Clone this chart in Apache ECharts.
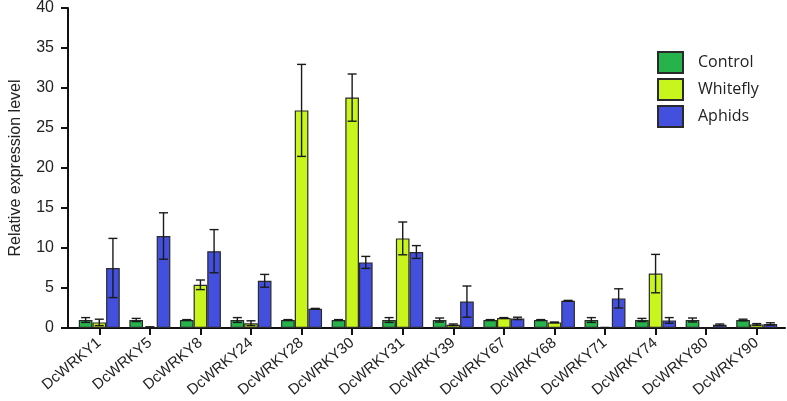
<!DOCTYPE html>
<html><head><meta charset="utf-8">
<script src="https://cdn.jsdelivr.net/npm/echarts@6/dist/echarts.min.js"></script>
<style>html,body{margin:0;padding:0;background:#fff}#c{width:787px;height:401px}</style>
</head><body><div id="c"></div>
<script>
const categories = ['DcWRKY1','DcWRKY5','DcWRKY8','DcWRKY24','DcWRKY28','DcWRKY30','DcWRKY31','DcWRKY39','DcWRKY67','DcWRKY68','DcWRKY71','DcWRKY74','DcWRKY80','DcWRKY90'];
const seriesNames = ['Control','Whitefly','Aphids'];
const controlVals = [1.0, 1.0, 1.0, 1.0, 1.0, 1.0, 1.0, 1.0, 1.0, 1.0, 1.0, 1.0, 1.0, 1.0];
const controlErr  = [0.3, 0.2, 0.05, 0.3, 0.05, 0.05, 0.3, 0.25, 0.05, 0.05, 0.3, 0.2, 0.25, 0.1];
const whiteflyVals = [0.7, 0.1, 5.4, 0.6, 27.2, 28.8, 11.2, 0.4, 1.25, 0.7, 0.05, 6.8, 0.02, 0.45];
const whiteflyErr  = [0.4, 0.05, 0.6, 0.3, 5.75, 2.95, 2.05, 0.1, 0.05, 0.05, 0.02, 2.4, 0.01, 0.1];
const aphidsVals = [7.5, 11.5, 9.6, 5.9, 2.4, 8.2, 9.5, 3.3, 1.2, 3.4, 3.7, 0.95, 0.4, 0.5];
const aphidsErr  = [3.7, 2.9, 2.7, 0.8, 0.05, 0.75, 0.8, 1.95, 0.15, 0.05, 1.2, 0.35, 0.1, 0.15];
const yTicks = [0, 5, 10, 15, 20, 25, 30, 35, 40];

const colors = ['#27B34B', '#C8F51C', '#4350DE'];
const vals = [controlVals, whiteflyVals, aphidsVals];
const errs = [controlErr, whiteflyErr, aphidsErr];
const BW = 0.27;

const chart = echarts.init(document.getElementById('c'));
const series = [];
seriesNames.forEach((name, k) => {
  series.push({
    name, type: 'bar', xAxisIndex: 1, yAxisIndex: 1,
    barWidth: (BW*100) + '%', barGap: '0%',
    itemStyle: { color: colors[k], borderColor: '#2a2a2a', borderWidth: 1.2 },
    data: vals[k]
  });
});
seriesNames.forEach((name, k) => {
  series.push({
    type: 'custom', xAxisIndex: 1, yAxisIndex: 1, z: 5, silent: true,
    encode: { x: 0, y: 1 },
    data: vals[k].map((v, i) => [i, v, errs[k][i]]),
    renderItem: function (params, api) {
      const i = api.value(0), v = api.value(1), e = api.value(2);
      const c = api.coord([i, v]);
      const band = api.size([1, 0])[0];
      const w = band * BW;
      const x = c[0] + (k - 1) * w;
      const top = api.coord([i, v + e])[1];
      const bot = api.coord([i, Math.max(0, v - e)])[1];
      const cap = w * 0.33;
      const st = { stroke: '#1a1a1a', lineWidth: 1.4 };
      return { type: 'group', children: [
        { type: 'line', shape: { x1: x, y1: top, x2: x, y2: bot }, style: st },
        { type: 'line', shape: { x1: x - cap, y1: top, x2: x + cap, y2: top }, style: st },
        { type: 'line', shape: { x1: x - cap, y1: bot, x2: x + cap, y2: bot }, style: st }
      ]};
    }
  });
});

chart.setOption({
  animation: false,
  textStyle: { fontFamily: 'Liberation Sans, Arial, sans-serif' },
  legend: {
    data: seriesNames, orient: 'vertical', left: 652, top: 46, icon: 'rect',
    itemWidth: 25, itemHeight: 21, itemGap: 4,
    textStyle: { fontFamily: 'Open Sans', fontSize: 16, color: '#222', padding: [0, 0, 0, 10] }
  },
  grid: [
    { left: 64, right: 2, top: 8, bottom: 73 },
    { left: 74, right: 5, top: 8, bottom: 73 }
  ],
  xAxis: [
    { type: 'value', gridIndex: 0, min: 0, max: 1,
      axisLine: { show: true, lineStyle: { color: '#111', width: 2 } },
      axisTick: { show: false }, axisLabel: { show: false }, splitLine: { show: false } },
    { type: 'category', gridIndex: 1, data: categories,
      axisLine: { show: false },
      axisTick: { show: true, alignWithLabel: true, length: 7, lineStyle: { color: '#111', width: 2 } },
      axisLabel: { rotate: 40, fontSize: 15, color: '#222', margin: 13, interval: 0 } }
  ],
  yAxis: [
    { type: 'value', gridIndex: 0, min: 0, max: 40, interval: 5,
      name: 'Relative expression level', nameLocation: 'middle', nameGap: 44,
      nameTextStyle: { fontSize: 16, color: '#222' },
      axisLine: { show: true, lineStyle: { color: '#111', width: 2 } },
      axisTick: { show: true, length: 7, lineStyle: { color: '#111', width: 2 } },
      axisLabel: { fontSize: 16, color: '#222', margin: 14,
        formatter: v => yTicks.includes(v) ? String(v) : '' },
      splitLine: { show: false } },
    { type: 'value', gridIndex: 1, min: 0, max: 40, show: false }
  ],
  series
});
</script></body></html>
